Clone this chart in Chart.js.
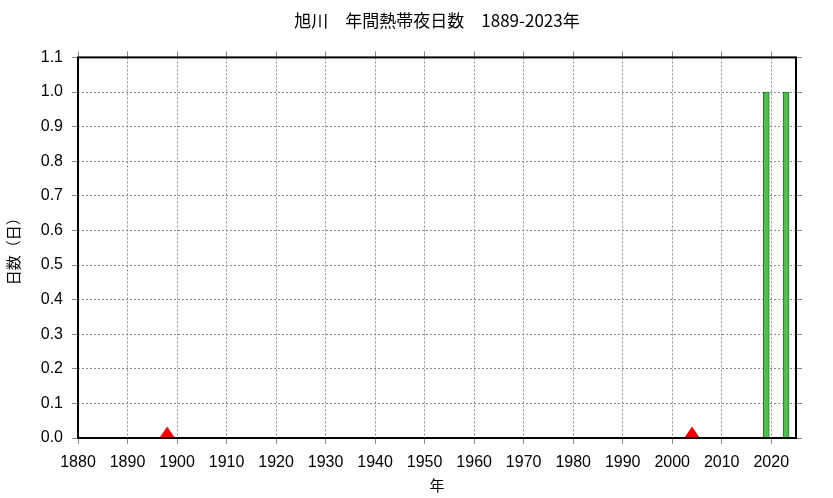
<!DOCTYPE html>
<html>
<head>
<meta charset="utf-8">
<script src="https://cdn.jsdelivr.net/npm/chart.js@4"></script>
<style>
  body { margin: 0; background: #fff; }
  #wrap { width: 833px; height: 498px; }
</style>
</head>
<body>
<div id="wrap"><canvas id="chart" width="833" height="498"></canvas></div>
<script>
// 旭川 年間熱帯夜日数
const years = [2019, 2023];
const nights = [1, 1];
// 観測所移転など（▲）
const markYears = [1898, 2004];
const markValues = [0, 0];
const xTicks = [1880, 1890, 1900, 1910, 1920, 1930, 1940, 1950, 1960, 1970, 1980, 1990, 2000, 2010, 2020];
const yTicks = [0, 0.1, 0.2, 0.3, 0.4, 0.5, 0.6, 0.7, 0.8, 0.9, 1.0, 1.1];

const font = "'Liberation Sans', Arial, sans-serif";
const cjk = "'Noto Sans CJK JP', sans-serif";

// red triangle whose base sits on the point (so it rests on the axis)
function makeTriangle() {
  const c = document.createElement('canvas');
  c.width = 16; c.height = 24;
  const g = c.getContext('2d');
  g.fillStyle = '#ee0000';
  g.beginPath();
  g.moveTo(8, 0.5);
  g.lineTo(15.8, 12);
  g.lineTo(0.2, 12);
  g.closePath();
  g.fill();
  return c;
}

// frame around the plot area
const framePlugin = {
  id: 'frame',
  afterDatasetsDraw(chart) {
    const a = chart.chartArea, ctx = chart.ctx;
    ctx.save();
    ctx.strokeStyle = '#000';
    ctx.lineWidth = 2;
    ctx.strokeRect(a.left, a.top, a.right - a.left, a.bottom - a.top);
    ctx.restore();
  }
};

const gridOpts = {
  color: '#8a8a8a',
  offset: false,
  tickColor: '#888',
  tickBorderDash: [],
  tickLength: 6
};
const borderOpts = { display: false, dash: [2, 2] };

const ctx = document.getElementById('chart').getContext('2d');
new Chart(ctx, {
  type: 'bar',
  data: {
    datasets: [
      {
        type: 'bar',
        data: years.map((y, i) => ({ x: y, y: nights[i] })),
        backgroundColor: '#55b955',
        borderColor: '#1f7f1f',
        borderWidth: 1,
        barThickness: 6,
        order: 2
      },
      {
        type: 'scatter',
        data: markYears.map((y, i) => ({ x: y, y: markValues[i] })),
        pointStyle: makeTriangle(),
        clip: false,
        order: 1
      }
    ]
  },
  options: {
    responsive: false,
    animation: false,
    layout: { padding: { left: 0, right: 29, top: 0, bottom: 0 } },
    plugins: {
      legend: { display: false },
      tooltip: { enabled: false },
      title: {
        display: true,
        fullSize: false,
        text: '旭川　年間熱帯夜日数　1889-2023年',
        font: { family: cjk, size: 17, weight: 'normal' },
        color: '#000',
        padding: { top: 10, bottom: 21 }
      }
    },
    scales: {
      x: {
        type: 'linear',
        min: 1880,
        max: 2025,
        offset: false,
        afterBuildTicks: s => { s.ticks = xTicks.map(v => ({ value: v })); },
        afterFit: s => { s.height = 60; },
        ticks: { autoSkip: false, maxRotation: 0, color: '#000', font: { family: font, size: 16 }, padding: 9,
                 callback: v => String(v) },
        grid: gridOpts,
        border: borderOpts,
        title: { display: true, text: '年', color: '#000', font: { family: cjk, size: 15 }, padding: { top: 0 } }
      },
      x2: {
        type: 'linear',
        position: 'top',
        min: 1880,
        max: 2025,
        offset: false,
        afterBuildTicks: s => { s.ticks = xTicks.map(v => ({ value: v })); },
        afterFit: s => { s.height = 6; },
        ticks: { display: false },
        grid: { offset: false, drawOnChartArea: false, tickColor: '#888', tickLength: 6 },
        border: { display: false }
      },
      y: {
        min: 0,
        max: 1.1,
        afterBuildTicks: s => { s.ticks = yTicks.map(v => ({ value: v })); },
        afterFit: s => { s.width = 78; },
        ticks: { color: '#000', font: { family: font, size: 16 }, padding: 9,
                 callback: v => Number(v).toFixed(1) },
        grid: gridOpts,
        border: borderOpts,
        title: { display: true, text: '日数（日）', color: '#000', font: { family: cjk, size: 15 }, padding: { top: 4, bottom: 0 } }
      },
      y2: {
        position: 'right',
        min: 0,
        max: 1.1,
        afterBuildTicks: s => { s.ticks = yTicks.map(v => ({ value: v })); },
        afterFit: s => { s.width = 8; },
        ticks: { display: false },
        grid: { drawOnChartArea: false, tickColor: '#888', tickLength: 6 },
        border: { display: false }
      }
    }
  },
  plugins: [framePlugin]
});
</script>
</body>
</html>
